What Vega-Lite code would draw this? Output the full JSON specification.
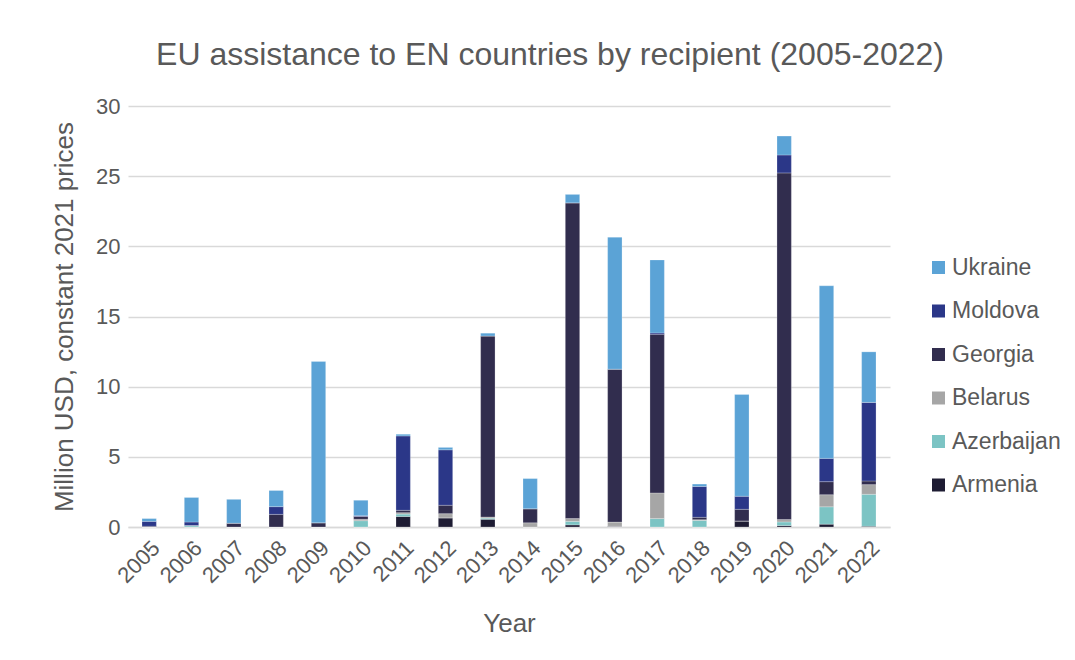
{
  "$schema": "https://vega.github.io/schema/vega-lite/v6.json",
  "width": 762,
  "height": 421,
  "autosize": {"type": "none"},
  "padding": {"left": 128, "top": 106, "right": 185, "bottom": 133},
  "background": "white",
  "title": {
    "text": "EU assistance to EN countries by recipient (2005-2022)",
    "font": "Liberation Sans",
    "fontSize": 32,
    "fontWeight": "normal",
    "color": "#595959",
    "anchor": "middle",
    "frame": "group",
    "dx": 41,
    "offset": 23
  },
  "data": {
    "values": [
      {"year": "2005", "Armenia": 0, "Azerbaijan": 0, "Belarus": 0, "Georgia": 0.05, "Moldova": 0.35, "Ukraine": 0.2},
      {"year": "2006", "Armenia": 0, "Azerbaijan": 0.1, "Belarus": 0, "Georgia": 0, "Moldova": 0.25, "Ukraine": 1.75},
      {"year": "2007", "Armenia": 0, "Azerbaijan": 0, "Belarus": 0, "Georgia": 0.27, "Moldova": 0, "Ukraine": 1.7},
      {"year": "2008", "Armenia": 0, "Azerbaijan": 0, "Belarus": 0, "Georgia": 0.9, "Moldova": 0.55, "Ukraine": 1.15},
      {"year": "2009", "Armenia": 0, "Azerbaijan": 0, "Belarus": 0, "Georgia": 0.3, "Moldova": 0, "Ukraine": 11.5},
      {"year": "2010", "Armenia": 0, "Azerbaijan": 0.45, "Belarus": 0.1, "Georgia": 0.2, "Moldova": 0.05, "Ukraine": 1.1},
      {"year": "2011", "Armenia": 0.75, "Azerbaijan": 0.17, "Belarus": 0.1, "Georgia": 0.17, "Moldova": 5.3, "Ukraine": 0.12},
      {"year": "2012", "Armenia": 0.65, "Azerbaijan": 0, "Belarus": 0.3, "Georgia": 0.6, "Moldova": 3.95, "Ukraine": 0.17},
      {"year": "2013", "Armenia": 0.55, "Azerbaijan": 0.08, "Belarus": 0.08, "Georgia": 12.9, "Moldova": 0, "Ukraine": 0.2},
      {"year": "2014", "Armenia": 0, "Azerbaijan": 0, "Belarus": 0.3, "Georgia": 1.0, "Moldova": 0, "Ukraine": 2.15},
      {"year": "2015", "Armenia": 0.15, "Azerbaijan": 0.25, "Belarus": 0.2, "Georgia": 22.5, "Moldova": 0, "Ukraine": 0.6},
      {"year": "2016", "Armenia": 0.05, "Azerbaijan": 0, "Belarus": 0.3, "Georgia": 10.9, "Moldova": 0, "Ukraine": 9.4},
      {"year": "2017", "Armenia": 0, "Azerbaijan": 0.6, "Belarus": 1.83, "Georgia": 11.3, "Moldova": 0.1, "Ukraine": 5.2},
      {"year": "2018", "Armenia": 0, "Azerbaijan": 0.47, "Belarus": 0.05, "Georgia": 0.17, "Moldova": 2.2, "Ukraine": 0.17},
      {"year": "2019", "Armenia": 0.43, "Azerbaijan": 0, "Belarus": 0, "Georgia": 0.83, "Moldova": 0.93, "Ukraine": 7.25},
      {"year": "2020", "Armenia": 0.1, "Azerbaijan": 0.26, "Belarus": 0.17, "Georgia": 24.7, "Moldova": 1.28, "Ukraine": 1.35},
      {"year": "2021", "Armenia": 0.2, "Azerbaijan": 1.24, "Belarus": 0.86, "Georgia": 0.93, "Moldova": 1.66, "Ukraine": 12.3},
      {"year": "2022", "Armenia": 0.05, "Azerbaijan": 2.28, "Belarus": 0.69, "Georgia": 0.26, "Moldova": 5.6, "Ukraine": 3.6}
    ]
  },
  "transform": [
    {"fold": ["Armenia", "Azerbaijan", "Belarus", "Georgia", "Moldova", "Ukraine"], "as": ["country", "value"]}
  ],
  "mark": {"type": "bar", "stroke": "white", "strokeWidth": 0.4, "strokeOpacity": 0.6},
  "encoding": {
    "x": {
      "field": "year",
      "type": "ordinal",
      "scale": {"paddingInner": 0.66, "paddingOuter": 0.33},
      "axis": {
        "title": "Year",
        "titleFont": "Liberation Sans",
        "titleFontSize": 26,
        "titleFontWeight": "normal",
        "titleColor": "#595959",
        "titlePadding": 24,
        "labelAngle": -45,
        "labelFont": "Liberation Sans",
        "labelFontSize": 22,
        "labelColor": "#595959",
        "labelPadding": 10,
        "ticks": false,
        "domainColor": "#D9D9D9",
        "domainWidth": 1.5
      }
    },
    "y": {
      "field": "value",
      "type": "quantitative",
      "aggregate": "sum",
      "stack": "zero",
      "scale": {"domain": [0, 30], "nice": false},
      "axis": {
        "title": "Million USD, constant 2021 prices",
        "titleFont": "Liberation Sans",
        "titleFontSize": 26,
        "titleFontWeight": "normal",
        "titleColor": "#595959",
        "titlePadding": 18,
        "values": [0, 5, 10, 15, 20, 25, 30],
        "labelFont": "Liberation Sans",
        "labelFontSize": 22,
        "labelColor": "#595959",
        "labelPadding": 8,
        "ticks": false,
        "domain": false,
        "gridColor": "#D9D9D9",
        "gridWidth": 1.5
      }
    },
    "color": {
      "field": "country",
      "type": "nominal",
      "scale": {
        "domain": ["Ukraine", "Moldova", "Georgia", "Belarus", "Azerbaijan", "Armenia"],
        "range": ["#5BA3D6", "#2B3788", "#312D4E", "#A6A6A6", "#7CC4C4", "#1E1C33"]
      },
      "legend": {
        "title": null,
        "orient": "none",
        "legendX": 799,
        "legendY": 150,
        "symbolType": "square",
        "symbolSize": 169,
        "symbolStrokeWidth": 0,
        "labelFont": "Liberation Sans",
        "labelFontSize": 23,
        "labelColor": "#595959",
        "labelOffset": 2,
        "rowPadding": 19.5
      }
    },
    "order": {"field": "country", "sort": "ascending"}
  },
  "config": {
    "view": {"stroke": null}
  }
}
